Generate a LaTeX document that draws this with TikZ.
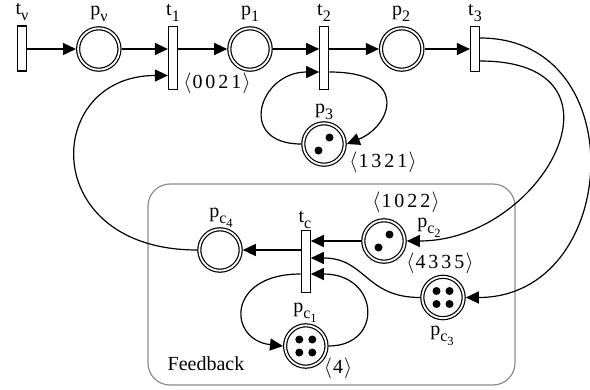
\documentclass[tikz,border=0pt]{standalone}
\usepackage{fontspec}
\setmainfont{Liberation Serif}
\usetikzlibrary{arrows.meta}
\newcommand\mysub[1]{\raisebox{-0.3em}{\fontsize{16}{16}\selectfont #1}}
\newcommand\mysubb[1]{\raisebox{-0.22em}{\fontsize{12.5}{13}\selectfont #1}}
\newcommand\mytup[1]{$\langle$\kern1pt#1\kern1pt$\rangle$}
\begin{document}
\begin{tikzpicture}[x=1pt,y=-1pt,
  place/.style={circle,draw,double,double distance=1.8pt,line width=1.2pt,minimum size=41.4pt,inner sep=0pt,outer sep=2.1pt},
  trans/.style={rectangle,draw,fill=white,line width=1.2pt,minimum width=9pt,inner sep=0pt,outer sep=0.6pt},
  arc/.style={line width=1.2pt,-{Triangle[length=13pt,width=12pt]}},
  lbl/.style={inner sep=0pt,font=\fontsize{20}{22}\selectfont},
  tok/.style={fill=black},
  group/.style={draw=black!45,line width=1.2pt,rounded corners=22pt}
]
\useasboundingbox (0,0) rectangle (590,389);
% feedback frame
\draw[group] (148,184) rectangle (515,385);
\node[lbl] (fb) at (206,364) {Feedback};

% transitions
\node[trans,minimum height=45pt] (tv) at (22,48.5) {};
\node[trans,minimum height=63pt] (t1) at (173,58) {};
\node[trans,minimum height=63pt] (t2) at (324.3,58) {};
\node[trans,minimum height=45pt] (t3) at (475,49) {};
\node[trans,minimum height=62pt] (tc) at (305.7,261.3) {};

% places
\node[place] (pv) at (98.8,49) {};
\node[place] (p1) at (250,49) {};
\node[place] (p2) at (401.7,49) {};
\node[place] (p3) at (324,144) {};
\node[place] (pc4) at (220,250) {};
\node[place] (pc2) at (384,241) {};
\node[place] (pc3) at (443,297.5) {};
\node[place] (pc1) at (305.8,346) {};

% tokens
\fill[tok] ([shift={(5.5pt,6.5pt)}]p3.center) circle (4pt);
\fill[tok] ([shift={(-5.5pt,-6.5pt)}]p3.center) circle (4pt);
\fill[tok] ([shift={(5.5pt,6.5pt)}]pc2.center) circle (4pt);
\fill[tok] ([shift={(-5.5pt,-6.5pt)}]pc2.center) circle (4pt);
\foreach \dx in {-6.5,6.5}{\foreach \dy in {-6.5,6.5}{
  \fill[tok] ([shift={(\dx pt,\dy pt)}]pc1.center) circle (4pt);
  \fill[tok] ([shift={(\dx pt,\dy pt)}]pc3.center) circle (4pt);
}}

% labels
\node[lbl] (ltv) at (22,12) {t\mysub{ν}};
\node[lbl] (lpv) at (99,14) {p\mysub{ν}};
\node[lbl] (lt1) at (173,13) {t\mysub{1}};
\node[lbl] (lp1) at (250,14) {p\mysub{1}};
\node[lbl] (lt2) at (324,13) {t\mysub{2}};
\node[lbl] (lp2) at (401,14) {p\mysub{2}};
\node[lbl] (lt3) at (475,13) {t\mysub{3}};
\node[lbl] (lp3) at (324,112) {p\mysub{3}};
\node[lbl] (lpc4) at (221,218) {p\mysub{c\mysubb{4}}};
\node[lbl] (ltc) at (305,220) {t\mysub{c}};
\node[lbl] (lpc2) at (429,228) {p\mysub{c\mysubb{2}}};
\node[lbl] (lpc3) at (442,336) {p\mysub{c\mysubb{3}}};
\node[lbl] (lpc1) at (305,313) {p\mysub{c\mysubb{1}}};
\node[lbl] (m1) at (217,83) {\mytup{0\kern3pt0\kern3pt2\kern3pt1}};
\node[lbl] (m3) at (383,162) {\mytup{1\kern3pt3\kern3pt2\kern3pt1}};
\node[lbl] (m5) at (406,202) {\mytup{1\kern3pt0\kern3pt2\kern3pt2}};
\node[lbl] (m6) at (440,263) {\mytup{4\kern3pt3\kern3pt3\kern3pt5}};
\node[lbl] (m4) at (338,368) {\mytup{4}};

% top row arcs
\draw[arc] (tv.east |- pv.west) -- (pv.west);
\draw[arc] (pv.east) -- (t1.west |- pv.east);
\draw[arc] (t1.east |- p1.west) -- (p1.west);
\draw[arc] (p1.east) -- (t2.west |- p1.east);
\draw[arc] (t2.east |- p2.west) -- (p2.west);
\draw[arc] (p2.east) -- (t3.west |- p2.east);

% p3 loop
\draw[arc] ([yshift=-14pt]t2.east) .. controls +(81,0) and +(45,-18) .. (p3.east);
\draw[arc] (p3.west) .. controls +(-65,0) and +(-60,0) .. ([yshift=-14pt]t2.west);

% t3 outputs
\draw[arc] ([yshift=11pt]t3.east) .. controls +(155,0) and +(155,0) .. (pc3.east);
\draw[arc] ([yshift=-12pt]t3.east) .. controls +(160,0) and +(136,0) .. (pc2.east);

% feedback to t1
\draw[arc] (pc4.west) .. controls +(-160,0) and +(-125,0) .. ([yshift=-17.5pt]t1.west);

% feedback block
\draw[arc] (pc2.west) -- (tc.east |- pc2.west);
\draw[arc] (tc.west |- pc4.east) -- (pc4.east);
\draw[arc] (pc3.west) .. controls +(-55,0) and +(55,0) .. ([yshift=3.3pt]tc.east);
\draw[arc] ([yshift=-12.7pt]tc.west) .. controls +(-75,0) and +(-55,-6) .. (pc1.west);
\draw[arc] (pc1.east) .. controls +(55,0) and +(69,0) .. ([yshift=-12.7pt]tc.east);
\end{tikzpicture}
\end{document}
